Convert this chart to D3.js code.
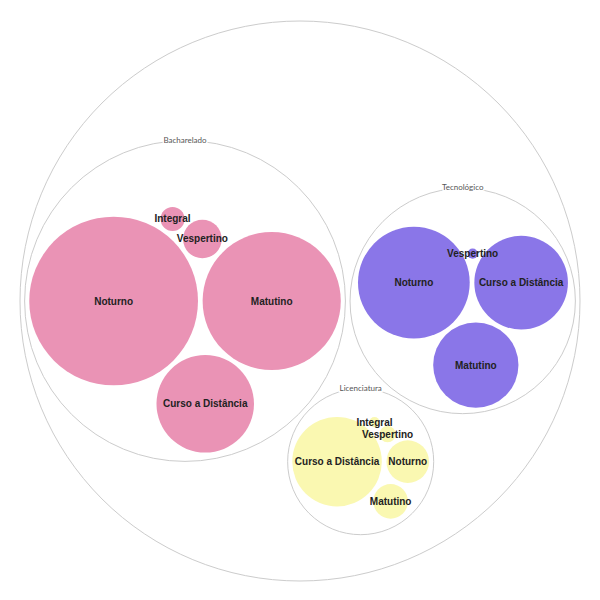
<!DOCTYPE html>
<html>
<head>
<meta charset="utf-8">
<script src="https://cdn.jsdelivr.net/npm/d3@7"></script>
<style>
  body { margin: 0; background: #fff; }
  svg { display: block; }
</style>
</head>
<body>
<svg id="chart" width="600" height="600"></svg>
<script>
// ---- Data ----
const categories = ["Bacharelado", "Tecnológico", "Licenciatura"];
const categoryColors = ["#ea93b5", "#8a76e8", "#faf8b1"];

const bachareladoLabels = ["Noturno", "Matutino", "Curso a Distância", "Vespertino", "Integral"];
const bachareladoValues = [689, 462, 230, 36, 14];

const tecnologicoLabels = ["Noturno", "Curso a Distância", "Matutino", "Vespertino"];
const tecnologicoValues = [302, 212, 176, 2.5];

const licenciaturaLabels = ["Curso a Distância", "Noturno", "Matutino", "Vespertino", "Integral"];
const licenciaturaValues = [194, 44, 29, 6.4, 2.5];

// ---- Build hierarchy ----
const leafLabels = [bachareladoLabels, tecnologicoLabels, licenciaturaLabels];
const leafValues = [bachareladoValues, tecnologicoValues, licenciaturaValues];

const data = {
  name: "root",
  children: categories.map((c, i) => ({
    name: c,
    ci: i,
    children: leafLabels[i].map((l, j) => ({ name: l, ci: i, value: leafValues[i][j] }))
  }))
};

const size = 560;
const root = d3.hierarchy(data)
  .sum(d => d.value || 0)
  .sort((a, b) => b.value - a.value);

d3.pack().size([size, size]).padding(5)(root);

const svg = d3.select("#chart");
const g = svg.append("g").attr("transform", "translate(20,21)");

const color = d3.scaleOrdinal().domain(d3.range(categories.length)).range(categoryColors);

// circles
g.selectAll("circle")
  .data(root.descendants())
  .join("circle")
  .attr("cx", d => d.x)
  .attr("cy", d => d.y)
  .attr("r", d => d.r)
  .attr("fill", d => d.children ? "#fff" : color(d.data.ci))
  .attr("stroke", d => d.children ? "#cccccc" : "none")
  .attr("stroke-width", 1);

// category labels at top of parent circles
g.selectAll("text.cat")
  .data(root.descendants().filter(d => d.depth === 1))
  .join("text")
  .attr("class", "cat")
  .attr("x", d => d.x)
  .attr("y", d => d.y - d.r + 2)
  .attr("text-anchor", "middle")
  .attr("font-family", "Lato, 'Open Sans', sans-serif")
  .attr("font-size", 8)
  .attr("fill", "#555")
  .attr("stroke", "#fff")
  .attr("stroke-width", 3)
  .attr("paint-order", "stroke")
  .text(d => d.data.name);

// leaf labels
g.selectAll("text.leaf")
  .data(root.leaves())
  .join("text")
  .attr("class", "leaf")
  .attr("x", d => d.x)
  .attr("y", d => d.y)
  .attr("dy", "0.35em")
  .attr("text-anchor", "middle")
  .attr("font-family", "'Liberation Sans', Arial, sans-serif")
  .attr("font-weight", "bold")
  .attr("font-size", 10)
  .attr("fill", "#222")
  .text(d => d.data.name);
</script>
</body>
</html>
